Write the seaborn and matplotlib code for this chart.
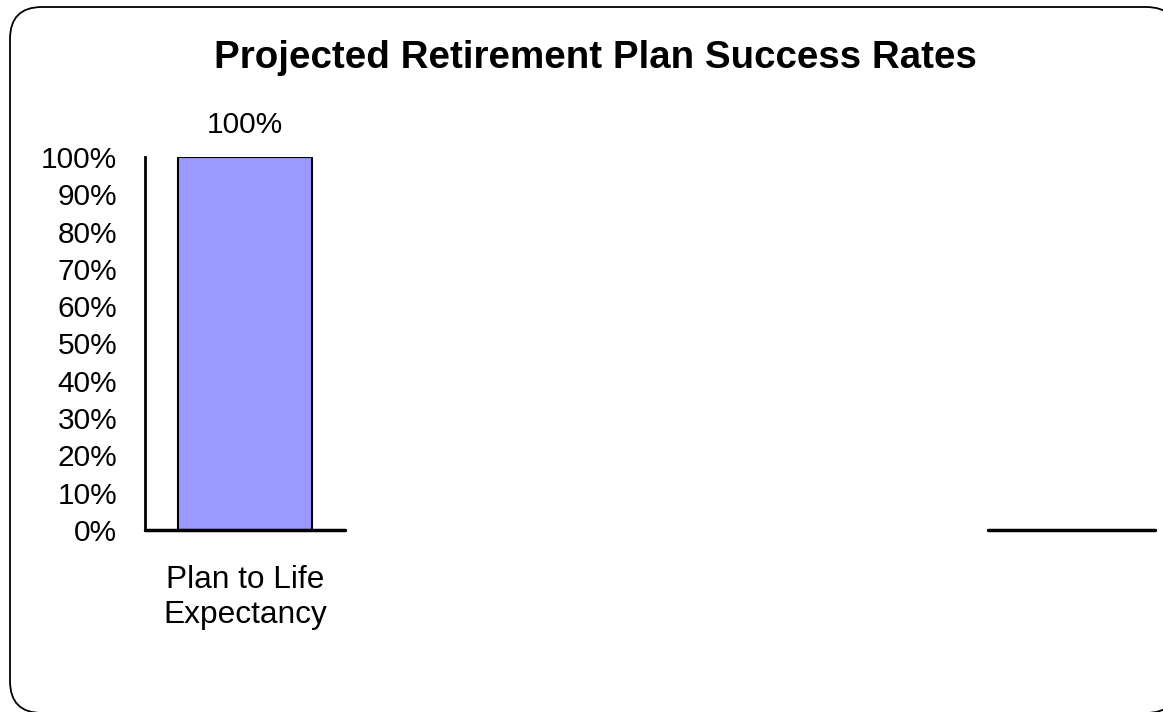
import matplotlib
matplotlib.use("Agg")
import matplotlib.pyplot as plt
import seaborn as sns
import pandas as pd
from matplotlib.patches import FancyBboxPatch
from matplotlib.transforms import IdentityTransform
from matplotlib.ticker import PercentFormatter

categories = ["Plan to Life\nExpectancy"]
success_rates = [1.00]
bar_labels = ["100%"]
title = "Projected Retirement Plan Success Rates"

sns.set_theme(style="white")
plt.rcParams['font.family'] = ['Liberation Sans', 'DejaVu Sans']

W, H = 1163, 712
fig = plt.figure(figsize=(W / 100, H / 100), dpi=100)

# rounded chart border in pixel coordinates (extends past right/bottom edges)
border = FancyBboxPatch((10, H - 713), 1178 - 10, 713 - 7,
                        boxstyle="round,pad=0,rounding_size=32",
                        transform=IdentityTransform(), facecolor="white",
                        edgecolor="black", linewidth=1.3,
                        clip_on=False, zorder=-5)
fig.patches.append(border)

ax = fig.add_axes([145 / W, 1 - 530 / H, 1010 / W, (530 - 157) / H])
ax.set_facecolor("none")
ax.set_zorder(2)

df = pd.DataFrame({"cat": categories, "rate": success_rates})
sns.barplot(data=df, x="cat", y="rate", color="#9999FF", width=0.67,
            edgecolor="black", linewidth=1.5, saturation=1, ax=ax)

ax.set_xlim(-0.5, 4.55)
ax.set_ylim(0, 1)
ax.set_yticks([i / 10 for i in range(11)])
ax.yaxis.set_major_formatter(PercentFormatter(1.0, decimals=0))
ax.tick_params(axis="y", length=0, pad=20, labelsize=21.5, colors="black")
ax.tick_params(axis="x", length=0, pad=25.5, labelsize=22.8, colors="black")
ax.set_xlabel("")
ax.set_ylabel("")

for s in ["top", "right", "bottom"]:
    ax.spines[s].set_visible(False)
ax.spines["left"].set_color("black")
ax.spines["left"].set_linewidth(2)

# category axis line, shown in two pieces as in reference
ax.axhline(0, xmin=0, xmax=200 / 1010, color="black", linewidth=2.5, clip_on=False)
ax.axhline(0, xmin=(988 - 145) / 1010, xmax=1, color="black", linewidth=2.5, clip_on=False)

for p, lab in zip(ax.patches, bar_labels):
    ax.annotate(lab, (p.get_x() + p.get_width() / 2, p.get_height()),
                xytext=(0, 13), textcoords="offset points",
                ha="center", va="bottom", fontsize=21.5, color="black")

fig.text(595 / W, 1 - 58 / H, title, ha="center", va="center",
         fontsize=27.7, fontweight="bold", color="black")

fig.savefig("out.png", dpi=100)
